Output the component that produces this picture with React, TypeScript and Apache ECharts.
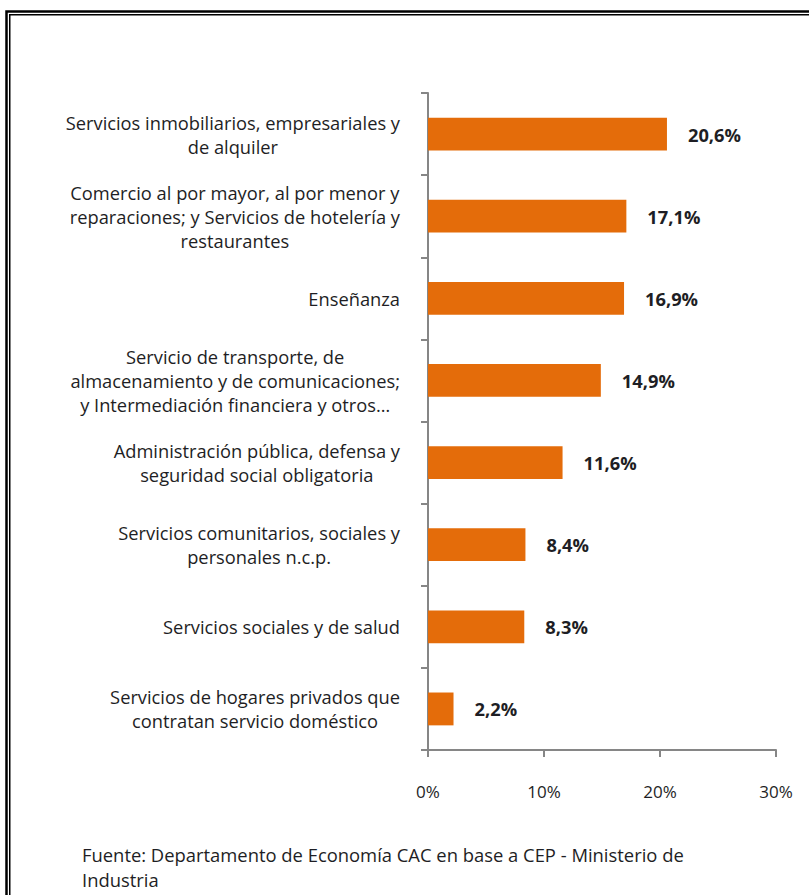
import React, { useEffect, useRef } from "react";
import * as echarts from "echarts";

const categories: string[] = [
  "Servicios inmobiliarios, empresariales y\nde alquiler",
  "Comercio al por mayor, al por menor y\nreparaciones; y Servicios de hotelería y\nrestaurantes",
  "Enseñanza",
  "Servicio de transporte, de\nalmacenamiento y de comunicaciones;\ny Intermediación financiera y otros…",
  "Administración pública, defensa y\nseguridad social obligatoria",
  "Servicios comunitarios, sociales y\npersonales n.c.p.",
  "Servicios sociales y de salud",
  "Servicios de hogares privados que\ncontratan servicio doméstico",
];

const values: number[] = [20.6, 17.1, 16.9, 14.9, 11.6, 8.4, 8.3, 2.2];

const xMin = 0;
const xMax = 30;
const xInterval = 10;

const footnoteLines: string[] = [
  "Fuente: Departamento de Economía CAC en base a CEP - Ministerio de",
  "Industria",
];

const FONT = "'Open Sans', Lato, sans-serif";
const TEXT = "#1e1e24";
const AXIS = "#868686";

export default function App() {
  const ref = useRef<HTMLDivElement>(null);

  useEffect(() => {
    if (!ref.current) return;
    const chart = echarts.init(ref.current, null, { renderer: "svg" });
    chart.setOption({
      animation: false,
      backgroundColor: "#ffffff",
      grid: { left: 428, right: 33, top: 93, bottom: 145, containLabel: false },
      xAxis: {
        type: "value",
        min: xMin,
        max: xMax,
        interval: xInterval,
        axisLine: { show: true, lineStyle: { color: AXIS, width: 2 } },
        axisTick: { show: true, length: 7, lineStyle: { color: AXIS, width: 2 } },
        splitLine: { show: false },
        axisLabel: {
          formatter: "{value}%",
          margin: 33,
          fontFamily: FONT,
          fontSize: 17,
          color: TEXT,
        },
      },
      yAxis: {
        type: "category",
        inverse: true,
        data: categories,
        axisLine: { show: true, lineStyle: { color: AXIS, width: 2 } },
        axisTick: { show: true, length: 7, lineStyle: { color: AXIS, width: 2 } },
        axisLabel: {
          margin: 28,
          formatter: (v: string) =>
            v
              .split("\n")
              .map((l) => `{c|${l}}`)
              .join("\n"),
          rich: {
            c: {
              align: "center",
              fontFamily: FONT,
              fontSize: 18.3,
              color: TEXT,
              lineHeight: 24,
            },
          },
        },
      },
      series: [
        {
          type: "bar",
          data: values,
          barCategoryGap: "60%",
          itemStyle: { color: "#E46C0A" },
          label: {
            show: true,
            position: "right",
            distance: 21,
            fontFamily: FONT,
            fontSize: 18.3,
            fontWeight: "bold",
            color: TEXT,
            formatter: (p: any) => p.value.toFixed(1).replace(".", ",") + "%",
          },
        },
      ],
      graphic: [
        {
          type: "rect",
          silent: true,
          shape: { x: 6.5, y: 11.5, width: 1000, height: 1000 },
          style: { fill: "none", stroke: "#000", lineWidth: 2.5 },
        },
        {
          type: "rect",
          silent: true,
          shape: { x: 9.75, y: 14.75, width: 1000, height: 1000 },
          style: { fill: "none", stroke: "#000", lineWidth: 1.5 },
        },
        {
          type: "text",
          left: 82,
          top: 842,
          style: {
            text: footnoteLines.join("\n"),
            fontFamily: FONT,
            fontSize: 18.4,
            lineHeight: 25,
            fill: TEXT,
          },
        },
      ],
    });
    return () => chart.dispose();
  }, []);

  return (
    <div
      ref={ref}
      style={{ position: "fixed", left: 0, top: 0, width: 809, height: 895 }}
    />
  );
}
